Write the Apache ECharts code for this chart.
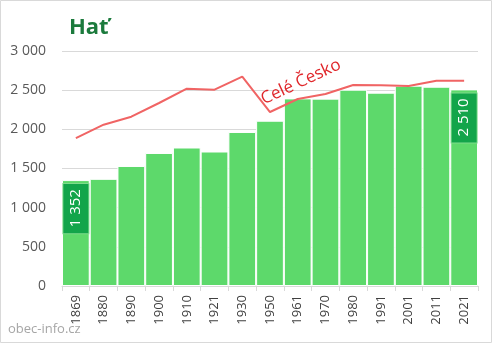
<!DOCTYPE html>
<html><head><meta charset="utf-8">
<script src="https://cdn.jsdelivr.net/npm/echarts@6/dist/echarts.min.js"></script>
<style>html,body{margin:0;padding:0;background:#fff}#c{width:492px;height:343px}</style>
</head><body><div id="c"></div>
<script>
const titleText = 'Hať';
const sourceText = 'obec-info.cz';
const lineName = 'Celé Česko';
const years = ['1869','1880','1890','1900','1910','1921','1930','1950','1961','1970','1980','1991','2001','2011','2021'];
const population = [1352,1368,1532,1698,1768,1717,1966,2110,2395,2392,2506,2468,2557,2544,2510];
const czechiaScaled = [1889,2059,2161,2336,2519,2506,2672,2221,2387,2451,2566,2562,2553,2621,2621];
const yTicks = [0,500,1000,1500,2000,2500,3000];
const labelledIndexes = [0, 14];
const lineLabelIndex = 8;

const fmt = v => String(v).replace(/\B(?=(\d{3})+(?!\d))/g, ' ');
const FONT = '"Open Sans", "Noto Sans", sans-serif';

const chart = echarts.init(document.getElementById('c'), null, {renderer:'canvas'});
chart.setOption({
  animation:false,
  title:[
    {text:titleText,left:64,top:12,textStyle:{fontFamily:FONT,fontSize:22,fontWeight:'bold',color:'#1b7a3c'}},
    {text:sourceText,left:3,bottom:2,textStyle:{fontFamily:FONT,fontSize:13,fontWeight:'normal',color:'#a6a6a6'}}
  ],
  graphic:[{type:'rect',shape:{x:0.5,y:0.5,width:491,height:342},style:{fill:'none',stroke:'#d9d9d9',lineWidth:1},silent:true,z:-10}],
  grid:{left:62,right:14,top:51,bottom:57},
  xAxis:{type:'category',data:years,boundaryGap:true,
    axisLine:{lineStyle:{color:'#d9d9d9'}},
    axisTick:{show:true,length:5,lineStyle:{color:'#d9d9d9'}},
    axisLabel:{rotate:90,margin:9,fontFamily:FONT,fontSize:13,color:'#404040',interval:0}},
  yAxis:{type:'value',min:yTicks[0],max:yTicks[yTicks.length-1],interval:500,
    axisLine:{show:false},axisTick:{show:false},
    splitLine:{lineStyle:{color:'#d9d9d9'}},
    axisLabel:{margin:16,fontFamily:FONT,fontSize:14,color:'#595959',formatter:v=>fmt(v)}},
  series:[
    {type:'bar',data:population.map((v,i)=>{
        const d={value:v};
        if(labelledIndexes.includes(i)){
          d.label={show:true,position:['50%',4],rotate:90,align:'right',verticalAlign:'middle',
            formatter:p=>fmt(p.value),fontFamily:FONT,fontSize:15,color:'#ffffff',
            backgroundColor:'#12a54a',borderColor:'#7fdc8c',borderWidth:1,
            padding:[4,5,3,6],lineHeight:18};
        }
        return d;
      }),
      barCategoryGap:'0%',itemStyle:{color:'#5dd96b',borderColor:'#ffffff',borderWidth:1},z:2},
    {type:'line',name:lineName,data:czechiaScaled.map((v,i)=>{
        const d={value:v};
        if(i===lineLabelIndex){
          d.label={show:true,position:'top',distance:0,offset:[10,-14],rotate:25,align:'center',verticalAlign:'middle',
            formatter:lineName,fontFamily:FONT,fontSize:17,color:'#e0262a'};
        }
        return d;
      }),
      symbol:'circle',symbolSize:0.1,showSymbol:true,
      lineStyle:{color:'#f06464',width:2},itemStyle:{color:'#f06464'},z:3}
  ]
});
</script></body></html>
